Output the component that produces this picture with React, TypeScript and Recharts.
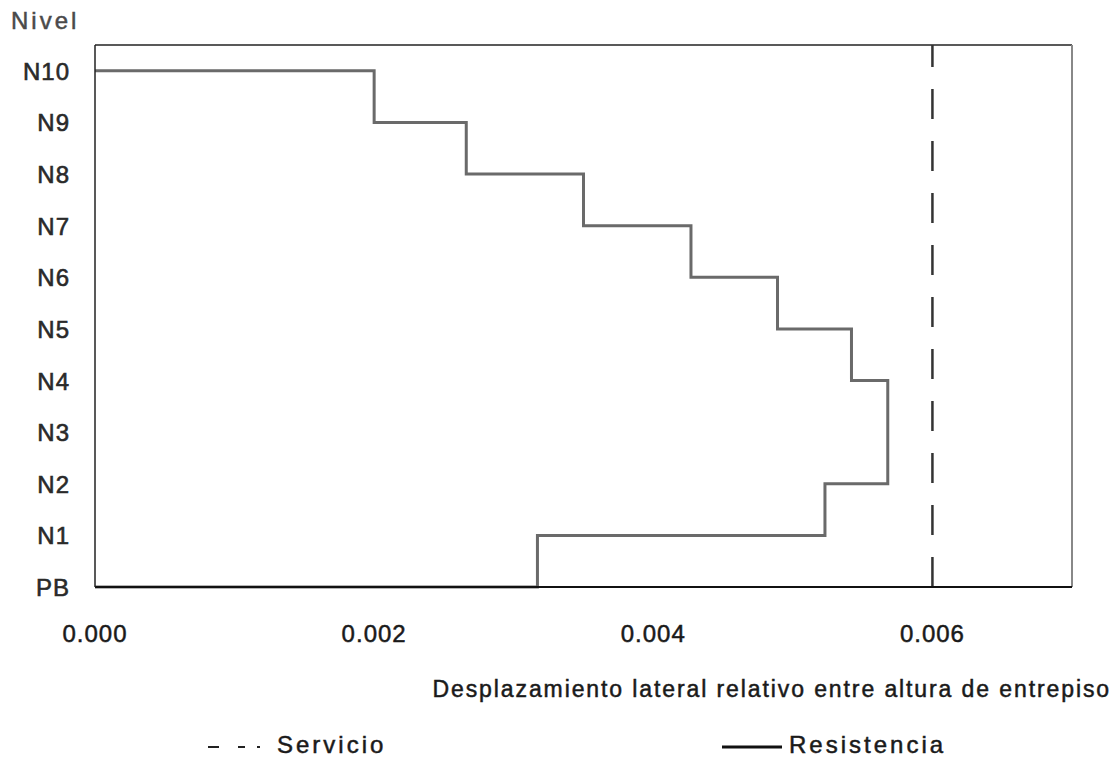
import { LineChart, Line, XAxis, YAxis, Legend, ReferenceLine } from "recharts";

// niveles del edificio (PB = planta baja)
const levels = ["PB", "N1", "N2", "N3", "N4", "N5", "N6", "N7", "N8", "N9", "N10"];
// deriva de cada entrepiso, de PB-N1 hasta N9-N10
const storyDrift = [0.00317, 0.00523, 0.00568, 0.00568, 0.00542, 0.00489, 0.00427, 0.0035, 0.00266, 0.002];
// limite de servicio
const serviceLimit = 0.006;
const xTicks = [0, 0.002, 0.004, 0.006];
const yTicks = [0, 1, 2, 3, 4, 5, 6, 7, 8, 9, 10];
const xMax = 0.007;
const yMax = 10.5;

const resistencia: { x: number; y: number }[] = [{ x: 0, y: 0 }];
storyDrift.forEach((d, i) => {
  resistencia.push({ x: d, y: i });
  resistencia.push({ x: d, y: i + 1 });
});
resistencia.push({ x: 0, y: storyDrift.length });

const servicio = [
  { x: serviceLimit, y: 0 },
  { x: serviceLimit, y: yMax },
];

const FONT = "'Liberation Sans', Arial, sans-serif";
const textStroke = { WebkitTextStroke: "0.5px #1a1a1a" } as any;

const XTick = (p: any) => (
  <text x={p.x} y={p.y} dy={47} textAnchor="middle" fontFamily={FONT} fontSize={24} letterSpacing={1}
    fill="#1a1a1a" stroke="#1a1a1a" strokeWidth={0.5}>
    {p.payload.value.toFixed(3)}
  </text>
);

const YTick = (p: any) => (
  <text x={70} y={p.y} dy={9} textAnchor="end" fontFamily={FONT} fontSize={24} letterSpacing={1}
    fill="#2a2a2a" stroke="#2a2a2a" strokeWidth={0.6}>
    {levels[p.payload.value]}
  </text>
);

const LegendBox = () => (
  <div style={{ position: "relative", width: 1119, height: 40, fontFamily: FONT, fontSize: 24, color: "#1a1a1a", letterSpacing: 3, ...textStroke }}>
    <svg width={60} height={40} style={{ position: "absolute", left: 205, top: 0 }}>
      <line x1={3} x2={14} y1={25} y2={25} stroke="#222" strokeWidth={2} />
      <line x1={33} x2={40} y1={25} y2={25} stroke="#222" strokeWidth={2} />
      <line x1={52} x2={55} y1={25} y2={25} stroke="#222" strokeWidth={2} />
    </svg>
    <span style={{ position: "absolute", left: 277, top: 9 }}>Servicio</span>
    <svg width={62} height={40} style={{ position: "absolute", left: 722, top: 0 }}>
      <line x1={0} x2={60} y1={25} y2={25} stroke="#111" strokeWidth={3} />
    </svg>
    <span style={{ position: "absolute", left: 789, top: 9 }}>Resistencia</span>
  </div>
);

export default function App() {
  return (
    <div style={{ position: "absolute", left: 0, top: 0, width: 1119, height: 763, background: "#fff" }}>
      <div style={{ position: "absolute", left: 11, top: 7, fontFamily: FONT, fontSize: 24, letterSpacing: 3, color: "#4a4a4a", WebkitTextStroke: "0.5px #4a4a4a" } as any}>
        Nivel
      </div>
      <div style={{ position: "absolute", right: 8, top: 676, fontFamily: FONT, fontSize: 23, letterSpacing: 1.9, color: "#1a1a1a", ...textStroke }}>
        Desplazamiento lateral relativo entre altura de entrepiso
      </div>
      <LineChart width={1119} height={763} margin={{ top: 45, right: 47, bottom: 96, left: 0 }}>
        <XAxis dataKey="x" type="number" domain={[0, xMax]} ticks={xTicks} height={40}
          axisLine={{ stroke: "#111", strokeWidth: 2 }} tickLine={false} tick={<XTick />} allowDataOverflow />
        <YAxis type="number" domain={[0, yMax]} ticks={yTicks} width={95}
          axisLine={{ stroke: "#222", strokeWidth: 1.5 }} tickLine={false} tick={<YTick />} />
        <ReferenceLine y={yMax} stroke="#222" strokeWidth={1.5} />
        <ReferenceLine x={xMax} stroke="#888" strokeWidth={2} />
        <Line data={servicio} dataKey="y" name="Servicio" stroke="#333" strokeWidth={2.5}
          strokeDasharray="30 22" dot={false} isAnimationActive={false} />
        <Line data={resistencia} dataKey="y" name="Resistencia" stroke="#6a6a6a" strokeWidth={3}
          dot={false} isAnimationActive={false} type="linear" />
        <Legend content={<LegendBox />} wrapperStyle={{ position: "absolute", left: 0, top: 722, width: 1119 }} />
      </LineChart>
    </div>
  );
}
